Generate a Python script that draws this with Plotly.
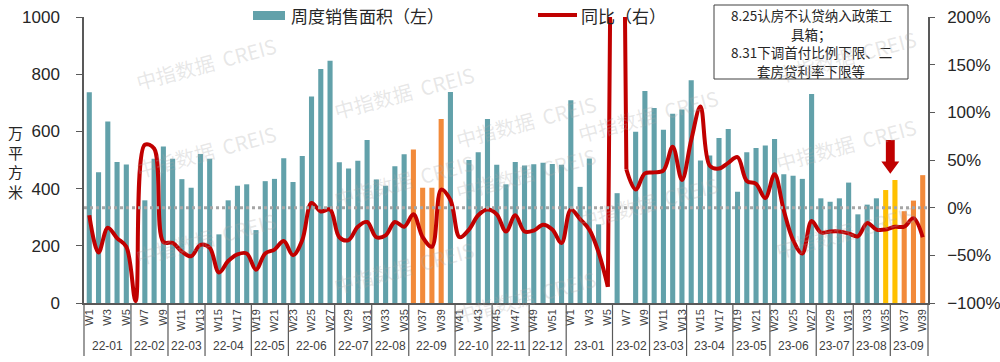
import plotly.graph_objects as go

# ---------------- data ----------------
weeks_22 = ["W%d" % i for i in range(1, 53)]
weeks_23 = ["W%d" % i for i in range(1, 40)]

area_22 = [737, 457, 635, 493, 484, None, 359, 504, 547, 504, 433, 403, 521, 504, 240, 359,
           410, 415, 255, 426, 434, 506, 423, 514, 722, 818, 847, 492, 470, 497, 570, 432,
           410, 478, 520, 537, 403, 403, 643, 738, None, 500, 527, 643, 483, 415, 493, 481,
           485, 490, 486, 483]
area_23 = [709, 406, 505, 275, None, 384, None, 599, 741, 682, 606, 662, 677, 779, 498, 516,
           577, 608, 389, 527, 542, 551, 573, 450, 445, 434, 731, 366, 354, 366, 421, 310,
           344, 366, 395, 430, 321, 358, 447]

yoy_22 = [-8, -47, -21, -32, -41, -98, 66, 62, -36, -37, -46, -51, -39, -42, -68, -56,
          -49, -48, -65, -48, -44, -35, -50, -34, 5, -4, -2, -31, -34, -20, -15, -31,
          -29, -15, -20, -7, -31, -41, 19, 8, -31, -23, -8, -2, -7, -25, -8, -25,
          -24, -18, -23, -37]
yoy_23 = [-2, -12, -23, -47, -83, 1100, 40, 19, 36, 37, 39, 64, 29, 71, 106, 44,
          41, 47, 53, 28, 25, 10, 35, -3, -34, -48, -14, -26, -25, -25, -27, -30,
          -16, -23, -23, -20, -20, -11, -31]

months = ["22-01", "22-02", "22-03", "22-04", "22-05", "22-06", "22-07", "22-08", "22-09",
          "22-10", "22-11", "22-12", "23-01", "23-02", "23-03", "23-04", "23-05", "23-06",
          "23-07", "23-08", "23-09"]
weeks_in_month = [5, 4, 4, 5, 4, 5, 4, 4, 5, 4, 4, 4, 5, 4, 4, 5, 4, 5, 4, 4, 4]

orange_weeks = ["22-W36", "22-W37", "22-W38", "22-W39", "23-W37", "23-W38", "23-W39"]
yellow_weeks = ["23-W35", "23-W36"]
arrow_week = "23-W35"

bar_name = "周度销售面积（左）"
line_name = "同比（右）"
note_lines = ["8.25认房不认贷纳入政策工", "具箱；", "8.31下调首付比例下限、二", "套房贷利率下限等"]
ytitle_chars = ["万", "平", "方", "米"]
watermark = "中指数据  CREIS"

# ---------------- build ----------------
keys = ["22-" + w for w in weeks_22] + ["23-" + w for w in weeks_23]
labels = weeks_22 + weeks_23
area = area_22 + area_23
yoy = yoy_22 + yoy_23
xs = list(range(len(keys)))

TEAL = "#62A1AA"
ORANGE = "#F28A3A"
YELLOW = "#FFC000"
RED = "#C00000"
AXIS = "#595959"
TXT = "#262626"

Y2_MIN, Y2_MAX = -100, 200

colors = [ORANGE if k in orange_weeks else YELLOW if k in yellow_weeks else TEAL for k in keys]

W, H = 1000, 362
L, R, T, B = 84, 72, 17, 59
PW, PH = W - L - R, H - T - B


def px(xp):
    return (xp - L) / PW


def py(yp):
    return (H - B - yp) / PH


fig = go.Figure()
fig.add_trace(go.Bar(x=xs, y=area, marker=dict(color=colors, line=dict(width=0)), width=0.55,
                     name=bar_name, yaxis="y", showlegend=False, hoverinfo="skip"))

# points far beyond the right axis range are drawn with straight segments (as in the source
# chart), the rest of the YoY series with a smoothed line
spikes = [i for i, v in enumerate(yoy) if v > Y2_MAX]
yoy_smooth = [None if i in spikes else v for i, v in enumerate(yoy)]
fig.add_trace(go.Scatter(x=xs, y=yoy_smooth, mode="lines", name=line_name, yaxis="y2",
                         showlegend=False, connectgaps=False,
                         line=dict(color=RED, width=4, shape="spline", smoothing=1), hoverinfo="skip"))
for s in spikes:
    seg = [i for i in (s - 1, s, s + 1) if 0 <= i < len(xs)]
    fig.add_trace(go.Scatter(x=[xs[i] for i in seg], y=[yoy[i] for i in seg], mode="lines",
                             name=line_name, yaxis="y2", showlegend=False,
                             line=dict(color=RED, width=4), hoverinfo="skip"))

tick_idx = [i for i, lab in enumerate(labels) if int(lab[1:]) % 2 == 1]

fig.update_layout(
    width=W, height=H, margin=dict(l=L, r=R, t=T, b=B, autoexpand=False),
    paper_bgcolor="white", plot_bgcolor="white",
    font=dict(family="Liberation Sans, Arial, Noto Sans CJK SC", color=TXT),
    bargap=0.45,
    xaxis=dict(range=[-0.57, len(xs) - 1 + 0.57], tickmode="array", tickvals=tick_idx,
               ticktext=[labels[i] for i in tick_idx], tickangle=-90, automargin=False,
               tickfont=dict(size=11, color="#404040"), ticks="", showgrid=False, zeroline=False,
               showline=True, linecolor=AXIS, linewidth=1.5),
    yaxis=dict(range=[0, 1000], dtick=200, showgrid=False, zeroline=False, showline=True,
               automargin=False, ticklabelposition="outside",
               linecolor=AXIS, linewidth=1.5, ticks="outside", ticklen=6, tickcolor=AXIS,
               tickfont=dict(size=17, color=TXT), ticklabelstandoff=13),
    yaxis2=dict(range=[Y2_MIN, Y2_MAX], dtick=50, ticksuffix="%", overlaying="y", side="right",
                automargin=False, ticklabelposition="outside",
                showgrid=False, zeroline=False, showline=True, linecolor=AXIS, linewidth=1.5,
                ticks="outside", ticklen=5, tickcolor=AXIS, tickfont=dict(size=17, color=TXT),
                ticklabelstandoff=9),
)

shapes = []
annotations = []

# dotted zero line on right axis
shapes.append(dict(type="line", xref="paper", x0=0, x1=1, yref="y2", y0=0, y1=0,
                   line=dict(color="#A6A6A6", width=3, dash="dot"), layer="above"))

# month separators and labels
start = 0
bounds = [0]
for m, n in zip(months, weeks_in_month):
    annotations.append(dict(text=m, x=start + (n - 1) / 2, xref="x", y=py(346), yref="paper",
                            showarrow=False, font=dict(size=12, color="#404040"),
                            xanchor="center", yanchor="middle"))
    start += n
    bounds.append(start)
for b in bounds:
    if b == 0:
        sx, xr = 0, "paper"
    elif b == len(xs):
        sx, xr = 1, "paper"
    else:
        sx, xr = b - 0.5, "x"
    shapes.append(dict(type="line", xref=xr, x0=sx, x1=sx, yref="paper", y0=0, y1=py(356),
                       line=dict(color=AXIS, width=1.2)))

# custom legend
shapes.append(dict(type="rect", xref="paper", yref="paper", x0=px(253), x1=px(285),
                   y0=py(20), y1=py(11), fillcolor=TEAL, line=dict(width=0)))
annotations.append(dict(text=bar_name, xref="paper", yref="paper", x=px(289), y=py(16),
                        xanchor="left", yanchor="middle", showarrow=False,
                        font=dict(size=17, family="Noto Sans CJK SC", color=TXT)))
shapes.append(dict(type="line", xref="paper", yref="paper", x0=px(538), x1=px(577),
                   y0=py(15), y1=py(15), line=dict(color=RED, width=4)))
annotations.append(dict(text=line_name, xref="paper", yref="paper", x=px(579), y=py(16),
                        xanchor="left", yanchor="middle", showarrow=False,
                        font=dict(size=17, family="Noto Sans CJK SC", color=TXT)))

# y axis title (stacked characters)
annotations.append(dict(text="<br>".join(ytitle_chars), xref="paper", yref="paper",
                        x=px(15), y=py(162), xanchor="center", yanchor="middle", showarrow=False,
                        font=dict(size=15, family="Noto Sans CJK SC", color=TXT)))

# policy note box: frame + one text per line
shapes.append(dict(type="rect", xref="paper", yref="paper", x0=px(714), x1=px(908),
                   y0=py(79), y1=py(5), fillcolor="white", line=dict(color="#404040", width=1),
                   layer="above"))
for i, line in enumerate(note_lines):
    annotations.append(dict(text=line, xref="paper", yref="paper", x=px(811), y=py(15 + 18.5 * i),
                            xanchor="center", yanchor="middle", showarrow=False,
                            font=dict(size=13.5, family="Noto Sans CJK SC", color=TXT)))

# red block arrow above the policy week
ax = keys.index(arrow_week) + 0.5
hw_shaft, hw_head = 0.48, 0.97
y_top, y_mid, y_tip = 570, 495, 452
shapes.append(dict(type="path", xref="x", yref="y",
                   path=(f"M {ax - hw_shaft},{y_top} L {ax + hw_shaft},{y_top} L {ax + hw_shaft},{y_mid} "
                         f"L {ax + hw_head},{y_mid} L {ax},{y_tip} L {ax - hw_head},{y_mid} "
                         f"L {ax - hw_shaft},{y_mid} Z"),
                   fillcolor=RED, line=dict(width=0)))

# watermarks
for i in range(5):
    for j in range(-1, 3):
        cx = 130 + 198 * i
        cy = 28 + 29 * i + 123 * j
        if 15 < cy < 340:
            annotations.append(dict(text=watermark, xref="paper", yref="paper", x=px(cx), y=py(cy),
                                    showarrow=False, textangle=-15,
                                    font=dict(size=20, family="Noto Sans CJK SC",
                                              color="rgba(170,170,170,0.28)")))

fig.update_layout(shapes=shapes, annotations=annotations)
fig.write_html("out.html", config={"displayModeBar": False},
               post_script="document.body.style.margin='0px';")
